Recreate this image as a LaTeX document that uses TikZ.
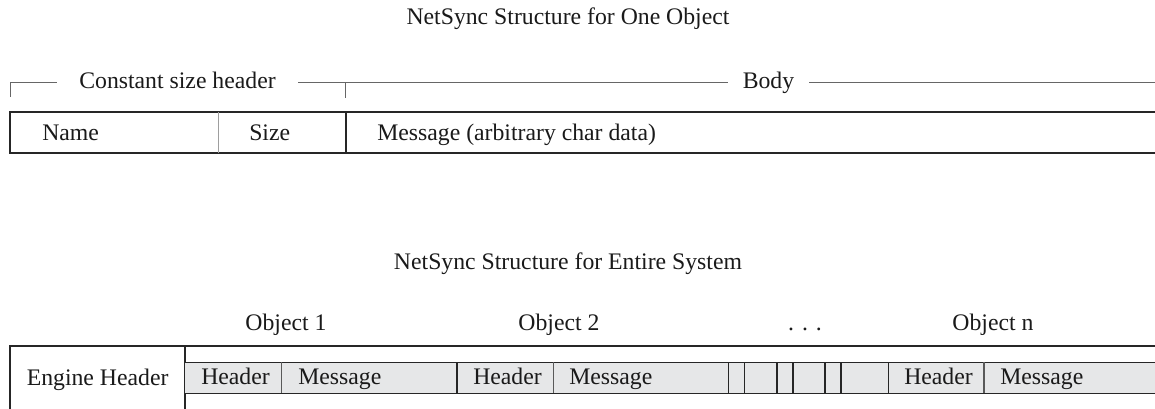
\documentclass[tikz,border=0pt]{standalone}
\usepackage{fontspec}
\setmainfont{Liberation Serif}
\definecolor{stripfill}{RGB}{230,231,232}
\definecolor{ink}{RGB}{26,26,26}
\begin{document}
\begin{tikzpicture}[x=0.75pt,y=-0.75pt,
  every node/.style={font=\fontsize{17.8}{21}\selectfont, text=ink, inner sep=0pt},
  frame/.style={line width=1.2pt, draw=black!85},
  bracket/.style={line width=0.75pt, draw=black!60},
  lightdiv/.style={line width=0.75pt, draw=black!38},
  stripdiv/.style={line width=0.9pt, draw=black!65},
  label/.style={anchor=base},
  cell/.style={anchor=base west},
]
\useasboundingbox (0,0) rectangle (1155,409);

% ---------- structure for one object ----------
\node[label] (title1) at (568,25) {NetSync Structure for One Object};

% bracket over header and body (gaps sized in pt: 1 unit = 0.75pt)
\coordinate (hl) at (10,83);
\coordinate (hm) at (345,83);
\coordinate (hr) at (1155,83);
\node[label, minimum width=180.75pt] (csh) at (177.5,89) {Constant size header};
\node[label, minimum width=60.75pt] (body) at (768.5,89) {Body};
\draw[bracket] (10,97) -- (hl) -- (hl -| csh.west);
\draw[bracket] (hm -| csh.east) -- (hm -| body.west);
\draw[bracket] (hm) -- (345,98);
\draw[bracket] (hr -| body.east) -- (hr);

% record row
\draw[frame] (1155,112.3) -- (10,112.3) -- (10,153.3) -- (1155,153.3);
\draw[lightdiv] (218,112.3) -- (218,153.3);
\draw[frame] (346,112.3) -- (346,153.3);
\node[cell] (name) at (42,140.5) {Name};
\node[cell] (size) at (249,140.5) {Size};
\node[cell] (msg) at (377,140.5) {Message (arbitrary char data)};

% ---------- structure for entire system ----------
\node[label] (title2) at (568,270) {NetSync Structure for Entire System};

\node[label] (obj1) at (286,330) {Object 1};
\node[label] (obj2) at (559,330) {Object 2};
\node[label] (dots) at (805,330) {.\,\,.\,\,.};
\node[label] (objn) at (993,330) {Object n};

% outer frame and engine header
\draw[frame] (10,409) -- (10,345.7) -- (1155,345.7);
\draw[frame] (185,345.7) -- (185,409);
\node[cell] (engine) at (26.5,385) {Engine Header};

% object strip
\fill[stripfill] (185,362.3) rectangle (1155,393.3);
\draw[frame] (185,362.3) -- (1155,362.3);
\draw[frame] (185,393.3) -- (1155,393.3);
\foreach \x in {457,728.3,744.3,776.7,792.7,825,840.7,888.3}
  \draw[frame] (\x,362.3) -- (\x,393.3);
\foreach \x in {281.7,553.3,984}
  \draw[stripdiv] (\x,362.3) -- (\x,393.3);

\node[cell] (h1) at (201,384.5) {Header};
\node[cell] (m1) at (298,384.5) {Message};
\node[cell] (h2) at (473,384.5) {Header};
\node[cell] (m2) at (569,384.5) {Message};
\node[cell] (hn) at (904,384.5) {Header};
\node[cell] (mn) at (1000,384.5) {Message};
\end{tikzpicture}
\end{document}
